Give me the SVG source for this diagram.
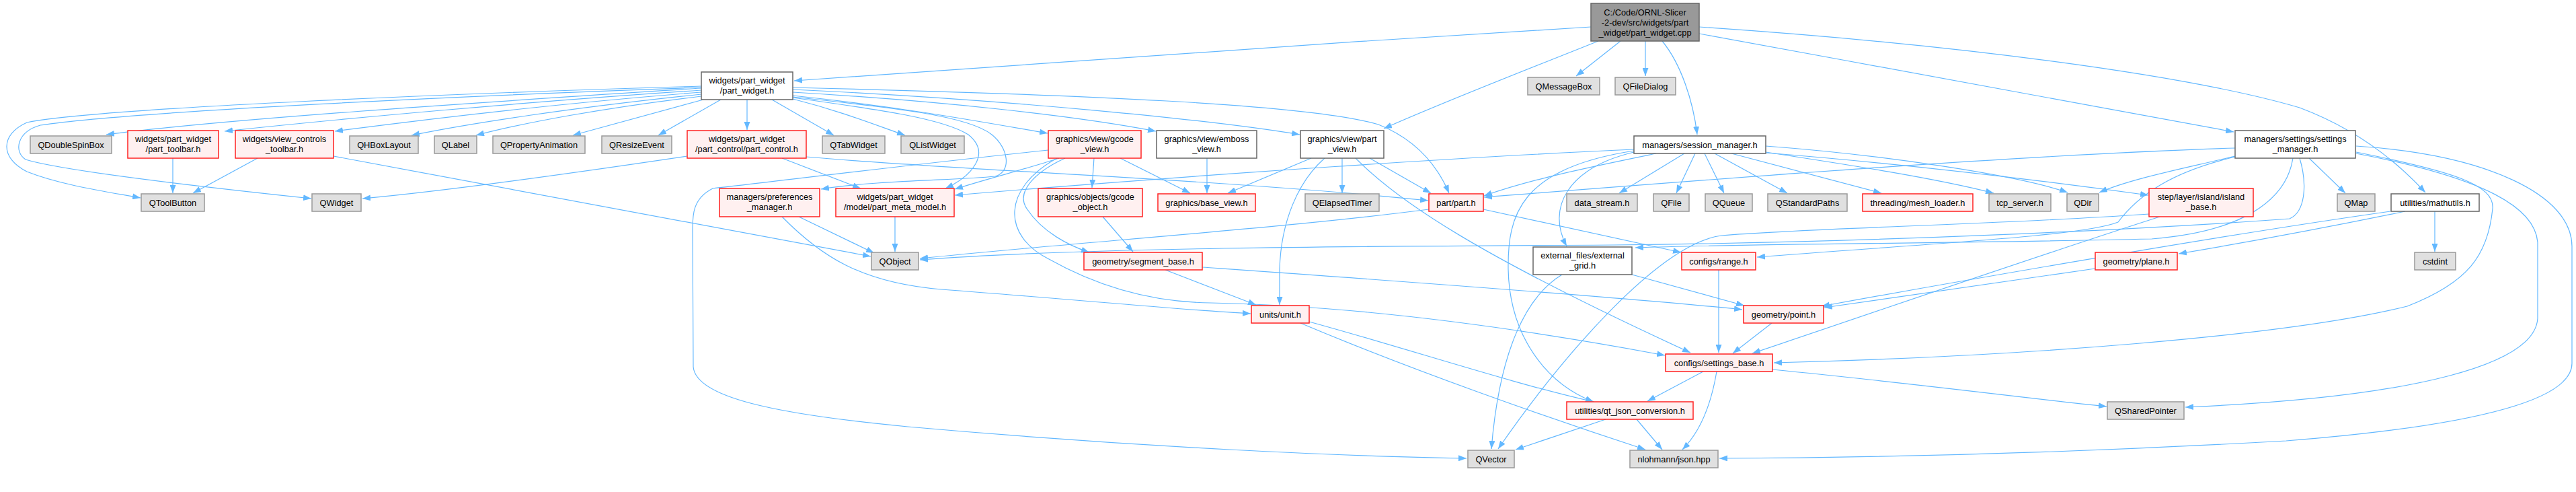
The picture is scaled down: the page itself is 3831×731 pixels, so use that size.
<svg xmlns="http://www.w3.org/2000/svg" width="3831" height="731" viewBox="0 0 3831 731">
<style>
.e{fill:none;stroke:#63b8ff;stroke-width:1.2;marker-end:url(#a)}
.n rect{stroke-width:1.5}
.g rect{fill:#e0e0e0;stroke:#999}
.w rect{fill:#fff;stroke:#666}
.r rect{fill:#fff0f0;stroke:#f22}
.root rect{fill:#999;stroke:#666}
text{font-family:"Liberation Sans",Arial,Helvetica,sans-serif;font-size:12.8px;fill:#000;text-anchor:middle}
</style>
<defs>
<marker id="a" markerUnits="userSpaceOnUse" markerWidth="12" markerHeight="9" refX="12" refY="4.5" orient="auto"><path d="M0,0 L12,4.5 L0,9 z" fill="#63b8ff"/></marker>
</defs>
<rect width="3831" height="731" fill="#fff"/>
<g id="edges">
<path class="e" d="M2366,40 C1950,65 1450,100 1181,120"/>
<path class="e" d="M2377,61 C2280,100 2150,150 2058,191"/>
<path class="e" d="M2410,61 L2344,113"/>
<path class="e" d="M2447,61 L2447,113"/>
<path class="e" d="M2472,61 C2500,95 2518,150 2524,200"/>
<path class="e" d="M2527,40 C2900,65 3250,110 3420,160 C3500,190 3560,235 3607,286"/>
<path class="e" d="M2527,50 C2800,100 3100,155 3322,196"/>
<path class="e" d="M1043,131 C750,150 350,175 158,200"/>
<path class="e" d="M1043,134 C800,150 520,175 334,195"/>
<path class="e" d="M1043,137 C850,152 650,175 498,195"/>
<path class="e" d="M1043,140 C850,160 700,183 612,201"/>
<path class="e" d="M1043,143 C900,160 780,182 708,201"/>
<path class="e" d="M1046,148 L852,201"/>
<path class="e" d="M1072,148 L979,201"/>
<path class="e" d="M1111,148 L1111,193"/>
<path class="e" d="M1148,148 L1240,201"/>
<path class="e" d="M1179,147 C1250,165 1300,185 1346,201"/>
<path class="e" d="M1179,142 C1350,160 1470,183 1558,198"/>
<path class="e" d="M1179,137 C1400,150 1600,172 1719,195"/>
<path class="e" d="M1179,133 C1500,148 1800,178 1933,200"/>
<path class="e" d="M1179,130 C1600,140 1950,155 2050,185 C2100,205 2135,240 2155,287"/>
<path class="e" d="M1179,145 C1300,162 1400,175 1440,200 C1475,228 1445,262 1406,280"/>
<path class="e" d="M1179,144 C1330,160 1440,172 1475,200 C1500,220 1505,255 1480,262 C1420,268 1300,268 1221,281"/>
<path class="e" d="M1043,128 C700,138 150,160 40,182 C0,200 0,235 40,255 C90,275 160,285 209,294"/>
<path class="e" d="M1043,130 C700,142 200,165 60,186 C25,196 20,225 38,237 C100,256 350,283 463,295"/>
<path class="e" d="M383,235 L287,287"/>
<path class="e" d="M257,235 L257,287"/>
<path class="e" d="M496,232 L1295,381"/>
<path class="e" d="M1022,232 C800,265 650,285 539,295"/>
<path class="e" d="M1163,235 L1280,280"/>
<path class="e" d="M1199,233 C1450,255 1800,265 2124,298"/>
<path class="e" d="M1188,322 L1300,376"/>
<path class="e" d="M1163,322 C1220,380 1280,420 1400,430 C1600,445 1750,460 1860,466"/>
<path class="e" d="M1331,322 L1331,374"/>
<path class="e" d="M1575,235 C1530,250 1470,265 1420,281"/>
<path class="e" d="M1627,235 L1624,279"/>
<path class="e" d="M1666,235 L1770,287"/>
<path class="e" d="M1584,235 C1540,255 1510,285 1527,310 C1550,345 1590,365 1620,375"/>
<path class="e" d="M1572,235 C1490,280 1490,350 1560,385 C1640,430 1720,449 1800,450 C2050,455 2300,495 2476,528"/>
<path class="e" d="M1559,223 C1350,245 1150,270 1060,280 C1030,295 1030,320 1030,340 L1031,545 C1035,590 1150,615 1350,634 C1700,665 2000,678 2181,681"/>
<path class="e" d="M1795,235 L1795,287"/>
<path class="e" d="M1640,322 L1685,374"/>
<path class="e" d="M1733,401 L1868,453"/>
<path class="e" d="M1788,397 C2000,412 2400,440 2591,460"/>
<path class="e" d="M1950,235 L1826,287"/>
<path class="e" d="M1996,235 L1996,287"/>
<path class="e" d="M2037,235 L2128,287"/>
<path class="e" d="M1970,235 C1930,270 1905,330 1903,400 L1903,453"/>
<path class="e" d="M2016,235 C2080,300 2200,380 2514,524"/>
<path class="e" d="M2125,311 C1900,340 1600,360 1368,384"/>
<path class="e" d="M2206,311 L2500,375"/>
<path class="e" d="M2505,228 L2408,287"/>
<path class="e" d="M2521,228 L2493,287"/>
<path class="e" d="M2535,228 L2564,287"/>
<path class="e" d="M2550,228 L2658,287"/>
<path class="e" d="M2575,228 L2798,287"/>
<path class="e" d="M2626,226 C2750,245 2880,265 2965,287"/>
<path class="e" d="M2626,217 C2800,230 3000,260 3075,286"/>
<path class="e" d="M2626,227 C2850,245 3050,270 3195,290"/>
<path class="e" d="M2463,228 C2380,245 2280,265 2207,291"/>
<path class="e" d="M2430,226 C2330,250 2300,310 2330,366"/>
<path class="e" d="M2430,224 C2260,250 2242,320 2243,400 C2245,500 2300,570 2370,597"/>
<path class="e" d="M2430,222 C2200,232 1800,258 1420,290"/>
<path class="e" d="M3324,220 C3000,230 2500,270 2207,293"/>
<path class="e" d="M3324,232 C3250,250 3170,265 3122,286"/>
<path class="e" d="M3434,235 L3488,287"/>
<path class="e" d="M3324,233 C3230,255 3180,290 3150,330 C3100,350 2900,360 2613,382"/>
<path class="e" d="M3410,235 C3400,300 3330,345 3200,355 C2900,362 2600,362 2432,368"/>
<path class="e" d="M3420,235 C3432,275 3428,315 3405,325 C3200,340 2800,360 2400,364 C2000,366 1600,368 1368,386"/>
<path class="e" d="M3504,226 C3650,255 3710,275 3707,310 C3700,380 3670,420 3580,455 C3400,500 3000,530 2638,539"/>
<path class="e" d="M3504,228 C3700,265 3770,310 3774,360 L3774,473 C3770,540 3600,590 3250,605"/>
<path class="e" d="M3504,217 C3700,230 3825,290 3825,366 L3825,540 C3825,600 3650,635 3400,655 C3100,672 2800,680 2557,681"/>
<path class="e" d="M3621,314 L3621,374"/>
<path class="e" d="M3577,314 C3450,340 3330,362 3240,377"/>
<path class="e" d="M3555,314 C3300,350 2900,420 2709,455"/>
<path class="e" d="M3212,322 C3000,390 2800,460 2606,525"/>
<path class="e" d="M3196,318 C2950,335 2700,338 2560,350 C2470,362 2330,520 2228,667"/>
<path class="e" d="M3116,399 L2713,457"/>
<path class="e" d="M2556,401 L2556,524"/>
<path class="e" d="M2635,480 L2577,525"/>
<path class="e" d="M2323,408 C2270,440 2230,520 2218,667"/>
<path class="e" d="M2427,408 L2594,454"/>
<path class="e" d="M1947,478 C2100,520 2250,570 2370,597"/>
<path class="e" d="M1934,480 C2100,550 2300,620 2447,668"/>
<path class="e" d="M2533,552 L2450,596"/>
<path class="e" d="M2553,552 C2545,600 2530,640 2502,668"/>
<path class="e" d="M2636,549 C2850,570 3000,590 3133,604"/>
<path class="e" d="M2388,623 L2254,668"/>
<path class="e" d="M2434,623 L2472,668"/>
</g>
<g id="node-root" class="n root"><rect x="2366" y="5" width="161" height="56"/><text x="2446.5" y="22.5">C:/Code/ORNL-Slicer</text><text x="2446.5" y="37.5">-2-dev/src/widgets/part</text><text x="2446.5" y="52.5">_widget/part_widget.cpp</text></g>
<g id="node-pw" class="n w"><rect x="1043" y="107" width="136" height="41"/><text x="1111" y="124">widgets/part_widget</text><text x="1111" y="139">/part_widget.h</text></g>
<g id="node-qmb" class="n g"><rect x="2272" y="115" width="107" height="26"/><text x="2325.5" y="132.5">QMessageBox</text></g>
<g id="node-qfd" class="n g"><rect x="2402" y="115" width="90" height="26"/><text x="2447" y="132.5">QFileDialog</text></g>
<g id="node-qdsb" class="n g"><rect x="45" y="202" width="121" height="26"/><text x="105.5" y="219.5">QDoubleSpinBox</text></g>
<g id="node-ptb" class="n r"><rect x="190" y="194" width="135" height="41"/><text x="257.5" y="211">widgets/part_widget</text><text x="257.5" y="226">/part_toolbar.h</text></g>
<g id="node-vct" class="n r"><rect x="350" y="194" width="146" height="41"/><text x="423" y="211">widgets/view_controls</text><text x="423" y="226">_toolbar.h</text></g>
<g id="node-qhb" class="n g"><rect x="520" y="202" width="102" height="26"/><text x="571" y="219.5">QHBoxLayout</text></g>
<g id="node-qlb" class="n g"><rect x="646" y="202" width="63" height="26"/><text x="677.5" y="219.5">QLabel</text></g>
<g id="node-qpa" class="n g"><rect x="733" y="202" width="137" height="26"/><text x="801.5" y="219.5">QPropertyAnimation</text></g>
<g id="node-qre" class="n g"><rect x="895" y="202" width="104" height="26"/><text x="947" y="219.5">QResizeEvent</text></g>
<g id="node-pc" class="n r"><rect x="1022" y="194" width="177" height="41"/><text x="1110.5" y="211">widgets/part_widget</text><text x="1110.5" y="226">/part_control/part_control.h</text></g>
<g id="node-qtw" class="n g"><rect x="1223" y="202" width="93" height="26"/><text x="1269.5" y="219.5">QTabWidget</text></g>
<g id="node-qlw" class="n g"><rect x="1340" y="202" width="94" height="26"/><text x="1387" y="219.5">QListWidget</text></g>
<g id="node-gv" class="n r"><rect x="1559" y="194" width="138" height="41"/><text x="1628" y="211">graphics/view/gcode</text><text x="1628" y="226">_view.h</text></g>
<g id="node-ev" class="n w"><rect x="1720" y="194" width="149" height="41"/><text x="1794.5" y="211">graphics/view/emboss</text><text x="1794.5" y="226">_view.h</text></g>
<g id="node-pv" class="n w"><rect x="1934" y="194" width="124" height="41"/><text x="1996" y="211">graphics/view/part</text><text x="1996" y="226">_view.h</text></g>
<g id="node-sm" class="n w"><rect x="2430" y="202" width="196" height="26"/><text x="2528" y="219.5">managers/session_manager.h</text></g>
<g id="node-stm" class="n w"><rect x="3324" y="194" width="179" height="41"/><text x="3413.5" y="211">managers/settings/settings</text><text x="3413.5" y="226">_manager.h</text></g>
<g id="node-qtb" class="n g"><rect x="210" y="288" width="94" height="26"/><text x="257" y="305.5">QToolButton</text></g>
<g id="node-qw" class="n g"><rect x="464" y="288" width="73" height="26"/><text x="500.5" y="305.5">QWidget</text></g>
<g id="node-pm" class="n r"><rect x="1070" y="280" width="149" height="42"/><text x="1144.5" y="297">managers/preferences</text><text x="1144.5" y="312">_manager.h</text></g>
<g id="node-pmm" class="n r"><rect x="1243" y="280" width="176" height="42"/><text x="1331" y="297">widgets/part_widget</text><text x="1331" y="312">/model/part_meta_model.h</text></g>
<g id="node-go" class="n r"><rect x="1544" y="280" width="155" height="42"/><text x="1621.5" y="297">graphics/objects/gcode</text><text x="1621.5" y="312">_object.h</text></g>
<g id="node-bv" class="n r"><rect x="1722" y="288" width="145" height="26"/><text x="1794.5" y="305.5">graphics/base_view.h</text></g>
<g id="node-qet" class="n g"><rect x="1941" y="288" width="110" height="26"/><text x="1996" y="305.5">QElapsedTimer</text></g>
<g id="node-part" class="n r"><rect x="2125" y="288" width="81" height="26"/><text x="2165.5" y="305.5">part/part.h</text></g>
<g id="node-ds" class="n g"><rect x="2330" y="288" width="105" height="26"/><text x="2382.5" y="305.5">data_stream.h</text></g>
<g id="node-qf" class="n g"><rect x="2459" y="288" width="53" height="26"/><text x="2485.5" y="305.5">QFile</text></g>
<g id="node-qq" class="n g"><rect x="2536" y="288" width="70" height="26"/><text x="2571" y="305.5">QQueue</text></g>
<g id="node-qsp" class="n g"><rect x="2629" y="288" width="118" height="26"/><text x="2688" y="305.5">QStandardPaths</text></g>
<g id="node-ml" class="n r"><rect x="2770" y="288" width="164" height="26"/><text x="2852" y="305.5">threading/mesh_loader.h</text></g>
<g id="node-tcp" class="n g"><rect x="2958" y="288" width="92" height="26"/><text x="3004" y="305.5">tcp_server.h</text></g>
<g id="node-qdir" class="n g"><rect x="3074" y="288" width="47" height="26"/><text x="3097.5" y="305.5">QDir</text></g>
<g id="node-ib" class="n r"><rect x="3196" y="280" width="155" height="42"/><text x="3273.5" y="297">step/layer/island/island</text><text x="3273.5" y="312">_base.h</text></g>
<g id="node-qmap" class="n g"><rect x="3476" y="288" width="56" height="26"/><text x="3504" y="305.5">QMap</text></g>
<g id="node-mu" class="n w"><rect x="3556" y="288" width="131" height="26"/><text x="3621.5" y="305.5">utilities/mathutils.h</text></g>
<g id="node-qo" class="n g"><rect x="1296" y="375" width="70" height="26"/><text x="1331" y="392.5">QObject</text></g>
<g id="node-sb" class="n r"><rect x="1612" y="375" width="176" height="26"/><text x="1700" y="392.5">geometry/segment_base.h</text></g>
<g id="node-eg" class="n w"><rect x="2280" y="367" width="147" height="41"/><text x="2353.5" y="384">external_files/external</text><text x="2353.5" y="399">_grid.h</text></g>
<g id="node-rng" class="n r"><rect x="2501" y="375" width="110" height="26"/><text x="2556" y="392.5">configs/range.h</text></g>
<g id="node-pl" class="n r"><rect x="3116" y="375" width="122" height="26"/><text x="3177" y="392.5">geometry/plane.h</text></g>
<g id="node-cst" class="n g"><rect x="3591" y="375" width="61" height="26"/><text x="3621.5" y="392.5">cstdint</text></g>
<g id="node-unit" class="n r"><rect x="1861" y="454" width="86" height="26"/><text x="1904" y="471.5">units/unit.h</text></g>
<g id="node-pt" class="n r"><rect x="2593" y="454" width="119" height="26"/><text x="2652.5" y="471.5">geometry/point.h</text></g>
<g id="node-set" class="n r"><rect x="2477" y="526" width="159" height="26"/><text x="2556.5" y="543.5">configs/settings_base.h</text></g>
<g id="node-qj" class="n r"><rect x="2330" y="597" width="188" height="26"/><text x="2424" y="614.5">utilities/qt_json_conversion.h</text></g>
<g id="node-qshp" class="n g"><rect x="3134" y="597" width="114" height="26"/><text x="3191" y="614.5">QSharedPointer</text></g>
<g id="node-qv" class="n g"><rect x="2183" y="669" width="69" height="26"/><text x="2217.5" y="686.5">QVector</text></g>
<g id="node-json" class="n g"><rect x="2424" y="669" width="131" height="26"/><text x="2489.5" y="686.5">nlohmann/json.hpp</text></g>
</svg>
